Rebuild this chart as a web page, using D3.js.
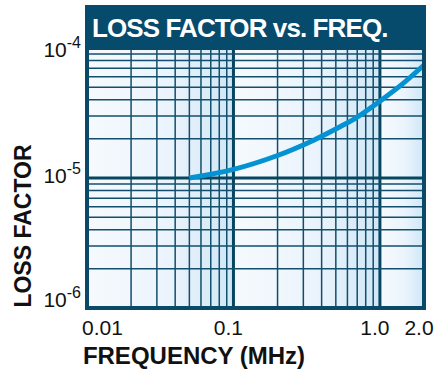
<!DOCTYPE html>
<html lang="en">
<head>
  <meta charset="UTF-8">
  <title>Loss Factor vs. Freq.</title>
  <style>
    body {
      margin: 0;
      background: #fff;
    }

    text {
      font-family: "Liberation Sans", Arial, sans-serif;
      fill: #111;
    }

    .grid-minor {
      stroke: #134e6c;
      stroke-width: 1.5;
    }

    .grid-major {
      stroke: #07465f;
      stroke-width: 3;
    }

    .frame {
      fill: none;
      stroke: #0a4a68;
      stroke-width: 4;
    }

    .curve {
      fill: none;
      stroke: #0592d2;
      stroke-width: 5;
    }
  </style>
</head>
<body>
  <svg></svg>
<script src="https://d3js.org/d3.v7.min.js"></script>
<script>

  const freqMHz = [0.05, 0.1, 0.2, 0.35, 0.55, 0.7, 1.0, 1.4, 2.0];
  const lossFactor = [1.0e-5, 1.165e-5, 1.49e-5, 1.945e-5, 2.52e-5, 2.94e-5, 3.9e-5, 5.2e-5, 7.4e-5];

  const xTickValues = [0.01, 0.1, 1.0, 2.0];
  const xTickLabels = ['0.01', '0.1', '1.0', '2.0'];
  const yTickValues = [1e-4, 1e-5, 1e-6];
  const yTickExponents = ['-4', '-5', '-6'];

  const width = 434,
    height = 371;

  const svg = d3.select('svg')
    .attr('width', width)
    .attr('height', height);

  const x = d3.scaleLog().domain([0.01, 2.0]).range([87, 424]);
  const y = d3.scaleLog().domain([1e-6, 1e-4]).range([308, 48]);

  // background: one white-to-blue gradient per decade
  const defs = svg.append('defs');
  const grad = defs.append('linearGradient')
    .attr('id', 'decadeFill')
    .attr('x1', 0).attr('x2', 1).attr('y1', 0).attr('y2', 0);
  grad.append('stop').attr('offset', '0%').attr('stop-color', '#f6fafe');
  grad.append('stop').attr('offset', '55%').attr('stop-color', '#ebf4fc');
  grad.append('stop').attr('offset', '100%').attr('stop-color', '#d0e7f7');

  const bands = [[0.01, 0.1], [0.1, 1.0], [1.0, 2.0]];
  svg.append('g')
    .selectAll('rect')
    .data(bands)
    .join('rect')
    .attr('x', d => x(d[0]))
    .attr('y', y(1e-4))
    .attr('width', d => x(d[1]) - x(d[0]))
    .attr('height', y(1e-6) - y(1e-4))
    .attr('fill', 'url(#decadeFill)');

  const isDecade = v => Math.abs(Math.log10(v) - Math.round(Math.log10(v))) < 1e-9;

  const xGrid = x.ticks().filter(v => v > 0.01 && v < 2.0);
  const yGrid = y.ticks().filter(v => v > 1e-6 && v < 1e-4);

  const grid = svg.append('g');

  grid.selectAll('.vline')
    .data(xGrid)
    .join('line')
    .attr('class', d => 'vline ' + (isDecade(d) ? 'grid-major' : 'grid-minor'))
    .attr('x1', d => x(d))
    .attr('x2', d => x(d))
    .attr('y1', y(1e-4))
    .attr('y2', y(1e-6));

  grid.selectAll('.hline')
    .data(yGrid)
    .join('line')
    .attr('class', d => 'hline ' + (isDecade(d) ? 'grid-major' : 'grid-minor'))
    .attr('x1', x(0.01))
    .attr('x2', x(2.0))
    .attr('y1', d => y(d))
    .attr('y2', d => y(d));

  // curve
  const pts = freqMHz.map((f, i) => [f, lossFactor[i]]);
  svg.append('path')
    .datum(pts)
    .attr('class', 'curve')
    .attr('d', d3.line()
      .x(d => x(d[0]))
      .y(d => y(d[1]))
      .curve(d3.curveCatmullRom.alpha(0.5)));

  svg.append('rect')
    .attr('class', 'frame')
    .attr('x', x(0.01))
    .attr('y', y(1e-4))
    .attr('width', x(2.0) - x(0.01))
    .attr('height', y(1e-6) - y(1e-4));

  // title bar
  svg.append('rect')
    .attr('x', x(0.01) - 2)
    .attr('y', 5)
    .attr('width', x(2.0) - x(0.01) + 4)
    .attr('height', y(1e-4) - 5)
    .attr('fill', '#064a6c');

  svg.append('text')
    .attr('x', 92)
    .attr('y', 37)
    .attr('font-size', 26)
    .attr('font-weight', 'bold')
    .attr('letter-spacing', -0.9)
    .style('fill', '#fff')
    .text('LOSS FACTOR vs. FREQ.');

  // x tick labels
  svg.append('g')
    .selectAll('text')
    .data(xTickValues)
    .join('text')
    .attr('x', d => x(d) - 5)
    .attr('y', 335)
    .attr('font-size', 21)
    .attr('text-anchor', (d, i) => i === 0 ? 'start' : 'middle')
    .text((d, i) => xTickLabels[i]);

  // y tick labels, 10 with superscript exponent
  const yLab = svg.append('g')
    .selectAll('text')
    .data(yTickValues)
    .join('text')
    .attr('x', 81)
    .attr('y', d => Math.min(Math.max(y(d) + 5, 57), 307))
    .attr('text-anchor', 'end');

  yLab.append('tspan')
    .attr('font-size', 21)
    .text('10');

  yLab.append('tspan')
    .attr('font-size', 16)
    .attr('dy', -9)
    .text((d, i) => yTickExponents[i]);

  // axis titles
  svg.append('text')
    .attr('x', 194)
    .attr('y', 364)
    .attr('font-size', 24)
    .attr('font-weight', 'bold')
    .attr('text-anchor', 'middle')
    .text('FREQUENCY (MHz)');

  svg.append('text')
    .attr('transform', 'translate(31,226) rotate(-90)')
    .attr('font-size', 23)
    .attr('font-weight', 'bold')
    .attr('text-anchor', 'middle')
    .text('LOSS FACTOR');

</script>
</body>
</html>
